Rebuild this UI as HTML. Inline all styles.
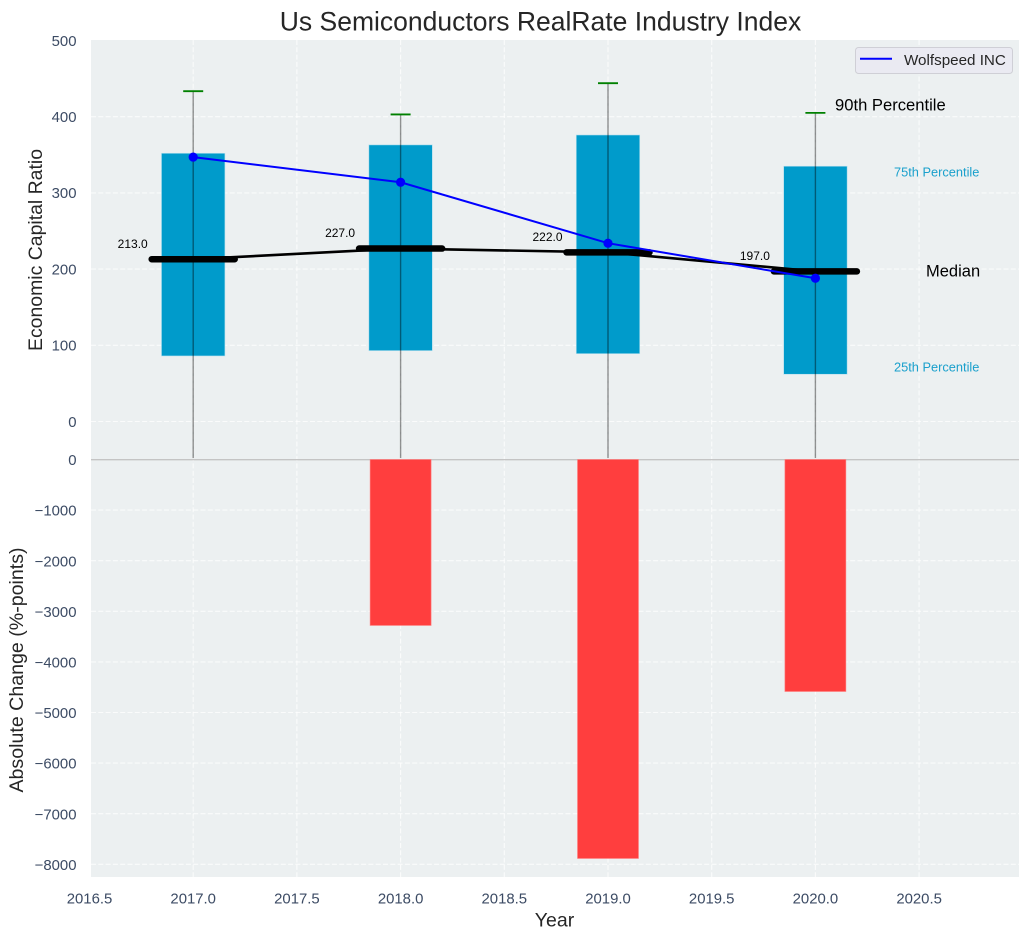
<!DOCTYPE html>
<html lang="en">
<head>
<meta charset="utf-8">
<title>Us Semiconductors RealRate Industry Index</title>
<style>
html,body{margin:0;padding:0;background:#fff;width:1029px;height:940px;overflow:hidden}
svg{display:block;font-family:"Liberation Sans",Arial,sans-serif}
</style>
</head>
<body>
<svg id="chart" width="1029" height="940" viewBox="0 0 1029 940" xmlns="http://www.w3.org/2000/svg">
  <rect x="91" y="40" width="928" height="837" fill="#ecf0f1"/>
  <g id="grid"></g>
  <g id="marks"></g>
  <g id="ticks"></g>
  <text x="540.5" y="30.5" text-anchor="middle" font-size="26.5" fill="#262626">Us Semiconductors RealRate Industry Index</text>
  <text transform="translate(42 250) rotate(-90)" text-anchor="middle" font-size="19.45" fill="#262626">Economic Capital Ratio</text>
  <text transform="translate(23 670) rotate(-90)" text-anchor="middle" font-size="19.6" fill="#262626">Absolute Change (%-points)</text>
  <text x="554.5" y="926.5" text-anchor="middle" font-size="19.5" fill="#262626">Year</text>
  <g>
    <rect x="855.5" y="47.5" width="157" height="26" rx="3" fill="#eaeaf2" stroke="#cfcfd6" stroke-width="1"/>
    <line x1="860" y1="58.7" x2="892" y2="58.7" stroke="#0000ff" stroke-width="2"/>
    <text x="904" y="65" font-size="15.2" fill="#262626">Wolfspeed INC</text>
  </g>
  <text x="835" y="110.5" font-size="16.6" fill="#000">90th Percentile</text>
  <text x="894" y="176.3" font-size="12.8" fill="#1aa0cc">75th Percentile</text>
  <text x="926" y="276.5" font-size="16.5" fill="#000">Median</text>
  <text x="894" y="371.3" font-size="12.8" fill="#1aa0cc">25th Percentile</text>
</svg>
<script>
const years = [2017, 2018, 2019, 2020];
const p90 = [433.5, 403, 444, 405];
const p75 = [352, 363, 376, 335];
const medians = [213, 227, 222, 197];
const p25 = [86, 93, 89, 62];
const whiskerLow = [-48, -48, -48, -48];
const company = [347, 314, 234, 188];
const absoluteChange = [0, -3280, -7885, -4585];
const xTicks = [2016.5, 2017, 2017.5, 2018, 2018.5, 2019, 2019.5, 2020, 2020.5];
const topTicks = [500, 400, 300, 200, 100, 0];
const bottomTicks = [0, -1000, -2000, -3000, -4000, -5000, -6000, -7000, -8000];

const xScale = v => 193.2 + (v - 2017) * 207.4;
const yTop = v => 421.5 - v * 0.762;
const yBottom = v => 459.5 - v * 0.0506;

const NS = 'http://www.w3.org/2000/svg';
const gridG = document.getElementById('grid');
const marksG = document.getElementById('marks');
const ticksG = document.getElementById('ticks');

function make(tag, props, parent) {
  const el = document.createElementNS(NS, tag);
  for (const k in props) el.setAttribute(k, props[k]);
  parent.appendChild(el);
  return el;
}
const gridStyle = { stroke: '#ffffff', 'stroke-width': 1.1, 'stroke-dasharray': '5 2.3', opacity: 0.75 };
const tickStyle = { 'font-size': 14.9, fill: '#3c4b64' };

xTicks.forEach(t => {
  const px = xScale(t);
  if (px >= 91) {
    const g = make('line', Object.assign({ x1: px, x2: px, y1: 40, y2: 877 }, gridStyle), gridG);
    
    
  }
  const lab = make('text', Object.assign({ x: px, y: 903.5, 'text-anchor': 'middle' }, tickStyle), ticksG);
  lab.textContent = t.toFixed(1);
  
  
});
topTicks.forEach(t => {
  const py = yTop(t);
  if (py > 41) {
    const g = make('line', Object.assign({ x1: 91, x2: 1019, y1: py, y2: py }, gridStyle), gridG);
    
    
  }
  const lab = make('text', Object.assign({ x: 76.5, y: py + 5.3, 'text-anchor': 'end' }, tickStyle), ticksG);
  lab.textContent = String(t);
  
  
});
bottomTicks.forEach(t => {
  const py = yBottom(t);
  const g = make('line', Object.assign({ x1: 91, x2: 1019, y1: py, y2: py }, gridStyle), gridG);
  
  
  const lab = make('text', Object.assign({ x: 76.5, y: py + 5.6, 'text-anchor': 'end' }, tickStyle), ticksG);
  lab.textContent = String(t).replace('-', '\u2212');
  
  
});

const zero = make('line', { x1: 91, x2: 1019, y1: 459.7, y2: 459.7, stroke: '#c4c4c4', 'stroke-width': 1.4 }, marksG);



years.forEach((yr, i) => {
  const cx = xScale(yr);
  const halfW = 0.153 * 207.4;

  const box = make('rect', {
    x: cx - halfW, width: halfW * 2,
    y: yTop(p75[i]), height: yTop(p25[i]) - yTop(p75[i]),
    fill: '#009bcb', stroke: '#b5dfee', 'stroke-width': 0.6
  }, marksG);
  
  

  if (absoluteChange[i] !== 0) {
    const bar = make('rect', {
      x: cx - 0.147 * 207.4, width: 0.294 * 207.4,
      y: yBottom(0), height: yBottom(absoluteChange[i]) - yBottom(0),
      fill: '#ff3e3e', stroke: '#ff7f7f', 'stroke-width': 0.6
    }, marksG);
    
    
  }

  const wh = make('line', {
    x1: cx, x2: cx, y1: yTop(p90[i]), y2: yTop(whiskerLow[i]),
    stroke: '#000', 'stroke-opacity': 0.42, 'stroke-width': 1.4
  }, marksG);
  
  

  const cap = make('line', {
    x1: cx - 10, x2: cx + 10, y1: yTop(p90[i]), y2: yTop(p90[i]),
    stroke: '#008000', 'stroke-width': 1.8
  }, marksG);
  
  
});

const medianLine = make('polyline', {
  points: years.map((yr, i) => xScale(yr) + ',' + yTop(medians[i])).join(' '),
  fill: 'none', stroke: '#000', 'stroke-width': 2.6
}, marksG);



years.forEach((yr, i) => {
  const cx = xScale(yr);
  const seg = make('line', {
    x1: cx - 41.5, x2: cx + 41.5, y1: yTop(medians[i]), y2: yTop(medians[i]),
    stroke: '#000', 'stroke-width': 6.5, 'stroke-linecap': 'round'
  }, marksG);
  
  

  const lab = make('text', {
    x: cx - 60.5, y: yTop(medians[i] + 15), 'text-anchor': 'middle',
    'font-size': 12, fill: '#000'
  }, marksG);
  lab.textContent = medians[i].toFixed(1);
  
  
});

const companyLine = make('polyline', {
  points: years.map((yr, i) => xScale(yr) + ',' + yTop(company[i])).join(' '),
  fill: 'none', stroke: '#0000ff', 'stroke-width': 2
}, marksG);



years.forEach((yr, i) => {
  const dot = make('circle', { cx: xScale(yr), cy: yTop(company[i]), r: 4.6, fill: '#0000ff' }, marksG);
  
  
});
</script>
</body>
</html>
